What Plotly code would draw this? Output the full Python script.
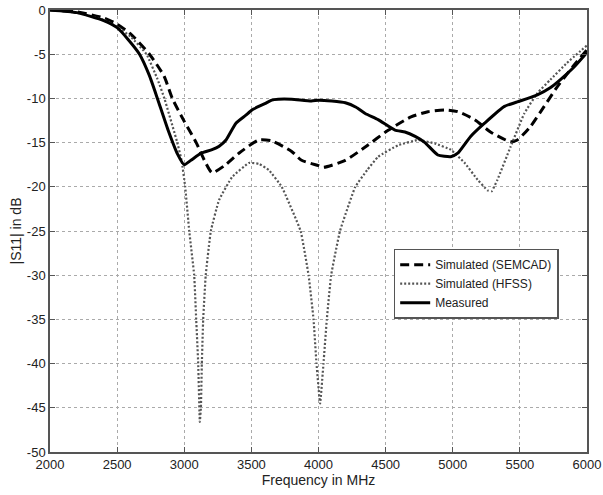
import plotly.graph_objects as go

# Simulated (SEMCAD) - dashed
semcad_f = [2000, 2200, 2400, 2500, 2600, 2741, 2850, 2911, 3000, 3089, 3150, 3207, 3300, 3407, 3556, 3650,
            3800, 3874, 4000, 4037, 4200, 4348, 4519, 4689, 4815, 4941, 5037, 5163, 5281, 5430, 5481,
            5578, 5681, 5778, 5900, 6000]
semcad_db = [0, -0.2, -0.9, -1.6, -2.7, -5.0, -7.5, -10.0, -12.6, -15.0, -17.0, -18.4, -17.6, -16.2, -14.7, -14.8,
             -16.0, -17.0, -17.6, -17.8, -17.0, -15.5, -13.6, -12.1, -11.5, -11.3, -11.5, -12.4, -13.8, -14.9, -14.7,
             -13.2, -10.9, -8.7, -6.3, -4.5]

# Simulated (HFSS) - dotted
hfss_f = [2000, 2200, 2400, 2500, 2600, 2719, 2800, 2852, 2948, 2980, 3007, 3037, 3074, 3089, 3104, 3116,
          3124, 3131, 3141, 3160, 3198, 3259, 3356, 3481, 3556, 3630, 3726, 3867, 3926, 3963, 3985, 4012,
          4037, 4062, 4094, 4160, 4274, 4363, 4444, 4593, 4741, 4867, 4985, 5089, 5185, 5259, 5290, 5333,
          5430, 5533, 5630, 5726, 5850, 6000]
hfss_db = [0, -0.3, -1.1, -1.9, -3.0, -5.0, -7.8, -10.0, -15.0, -17.0, -20.0, -25.0, -30.0, -35.0, -40.0, -46.6,
           -45.0, -40.0, -35.0, -30.0, -25.0, -21.5, -18.9, -17.3, -17.4, -18.1, -20.0, -25.0, -30.0, -35.0, -40.0, -44.5,
           -40.0, -35.0, -30.0, -25.0, -20.0, -18.1, -16.6, -15.3, -14.7, -15.1, -15.8, -17.3, -19.2, -20.4, -20.5, -19.2,
           -15.5, -11.7, -9.4, -7.9, -6.0, -4.0]

# Measured - solid
meas_f = [2000, 2200, 2400, 2500, 2580, 2667, 2740, 2800, 2880, 2950, 3000, 3050, 3126, 3207, 3260, 3311,
          3385, 3459, 3504, 3600, 3652, 3700, 3800, 3948, 4000, 4100, 4200, 4280, 4348, 4444, 4570, 4644, 4720,
          4793, 4889, 4985, 5037, 5133, 5237, 5385, 5481, 5630, 5726, 5800, 5900, 6000]
meas_db = [0, -0.3, -1.2, -2.0, -3.3, -5.0, -7.4, -10.0, -13.6, -16.3, -17.5, -17.0, -16.2, -15.8, -15.4, -14.7,
           -12.8, -11.9, -11.3, -10.6, -10.2, -10.1, -10.1, -10.3, -10.2, -10.3, -10.5, -11.0, -11.7, -12.4, -13.6, -13.8, -14.3,
           -15.0, -16.4, -16.6, -16.2, -14.3, -12.8, -10.9, -10.4, -9.6, -8.8, -7.9, -6.5, -4.8]

x_ticks = [2000, 2500, 3000, 3500, 4000, 4500, 5000, 5500, 6000]
y_ticks = [0, -5, -10, -15, -20, -25, -30, -35, -40, -45, -50]

fig = go.Figure()
fig.add_trace(go.Scatter(x=semcad_f, y=semcad_db, mode="lines", name="Simulated (SEMCAD)",
                         line=dict(color="black", width=3, dash="9px,5px", shape="spline", smoothing=0.6)))
fig.add_trace(go.Scatter(x=hfss_f, y=hfss_db, mode="lines", name="Simulated (HFSS)",
                         line=dict(color="#555555", width=2.2, dash="2px,2px", shape="spline", smoothing=0.3)))
fig.add_trace(go.Scatter(x=meas_f, y=meas_db, mode="lines", name="Measured",
                         line=dict(color="black", width=3, shape="spline", smoothing=0.5)))

axis_common = dict(showline=True, linecolor="#555555", linewidth=1.5, mirror="ticks", ticks="inside",
                   ticklen=5, tickcolor="#555555", showgrid=True, gridcolor="#aaaaaa", griddash="dot",
                   gridwidth=1, zeroline=False, tickfont=dict(size=13, color="#222222"),
                   ticklabeloverflow="allow", automargin=False)

fig.update_xaxes(range=[2000, 6000], tickvals=x_ticks, ticktext=[str(v) for v in x_ticks],
                 title=dict(text="Frequency in MHz", font=dict(size=14, color="#222222"), standoff=2),
                 **axis_common)
fig.update_yaxes(range=[-50, 0], tickvals=y_ticks, ticktext=[str(v) for v in y_ticks],
                 title=dict(text="|S11| in dB", font=dict(size=14, color="#222222"), standoff=2),
                 **axis_common)

fig.update_layout(
    width=603, height=495,
    margin=dict(l=50, r=16, t=10, b=43),
    paper_bgcolor="white", plot_bgcolor="white",
    font=dict(family="Liberation Sans, Arial, sans-serif", size=14, color="#222222"),
    legend=dict(x=0.64, y=0.46, xanchor="left", yanchor="top",
                bgcolor="white", bordercolor="#555555", borderwidth=1.5,
                font=dict(size=12), tracegroupgap=0, itemwidth=30),
    showlegend=True,
)

fig.write_html("out.html")
